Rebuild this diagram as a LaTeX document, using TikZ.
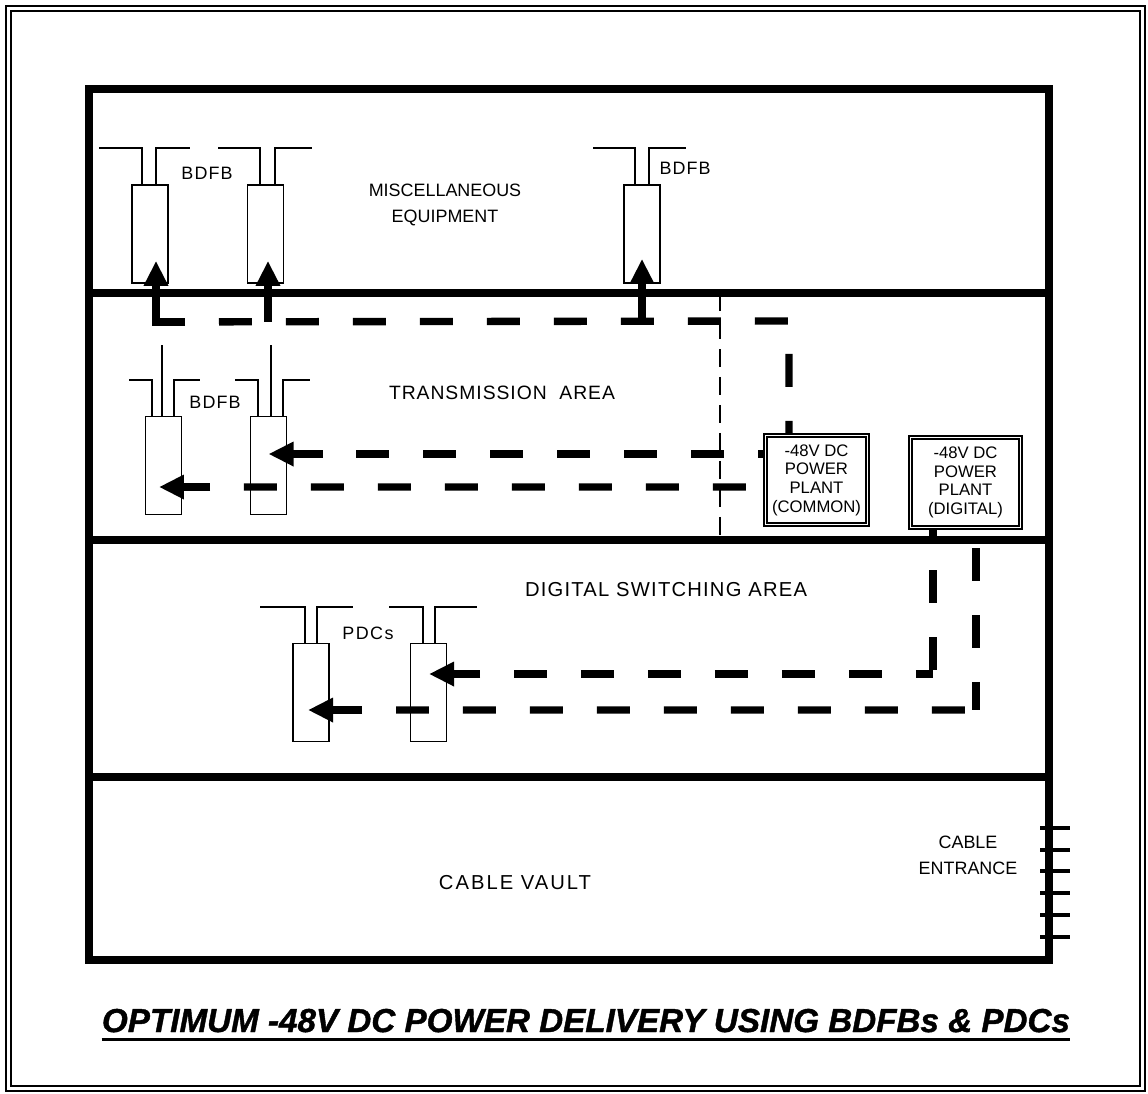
\documentclass[tikz,border=0pt]{standalone}
\usepackage{fontspec}
\setmainfont{Liberation Sans}
\usetikzlibrary{arrows.meta,positioning,calc}
\tikzset{
  wall/.style  ={line width=4.4pt},
  cab/.style   ={draw,line width=1pt,minimum width=.72cm,minimum height=1.96cm,inner sep=0pt},
  wire/.style  ={line width=1pt},
  plant/.style ={draw,double=white,line width=.9pt,double distance=1.1pt,inner sep=0pt,align=center,
                 font=\fontsize{9.5}{10.6}\selectfont},
  lbl/.style   ={font=\fontsize{10.2}{14.7}\selectfont,inner sep=0pt,align=center},
  feed/.style  ={line width=4.2pt,dash pattern=on .66cm off .68cm,dash phase=.66cm},
  fa/.style    ={-{Triangle[length=.5cm,width=.46cm]},line width=4.2pt},
  part/.style  ={line width=.8pt,dash pattern=on .36cm off .2cm},
  tick/.style  ={line width=2.2pt},
}
\begin{document}
\begin{tikzpicture}[x=.02cm,y=-.02cm]
  \useasboundingbox (0,0) rectangle (1148,1093);
  % page frame
  \draw[line width=1.2pt] (6,6) rectangle (1145,1091);
  \draw[line width=.6pt] (11,11) rectangle (1140,1086);
  % building and floors
  \draw[wall] (89,89) rectangle (1049,960);
  \draw[wall] (89,293) -- (1049,293);
  \draw[wall] (89,540) -- (1049,540);
  \draw[wall] (89,777) -- (1049,777);
  \draw[part] (720,293) -- (720,540);

  % BDFB / PDC cabinets
  \foreach \n/\x/\y in {b1/150/234,b2/265.5/234,b3/642/234,t1/163.5/465.5,t2/268.5/465.5,
                        p1/311/692.5,p2/428.5/692.5}
    \node[cab] (\n) at (\x,\y) {};
  \foreach \n/\a/\b/\l/\r in {b1/-8/6/43/34,b2/-5.5/9.5/42/37,b3/-7/7/42/37,t1/-11.5/10.5/23/26,
                              t2/-10.5/14.5/23/27,p1/-6/6/45/36,p2/-5.5/6.5/34/42}
    \draw[wire] ($(\n.north)+(\a,0)$) -- ++(0,-36) -- ++(-\l,0)
                ($(\n.north)+(\b,0)$) -- ++(0,-36) -- ++(\r,0);
  \draw[wire] ($(t1.north)+(-1.5,0)$) -- ++(0,-71);
  \draw[wire] ($(t2.north)+(2.5,0)$) -- ++(0,-71);

  % power plants
  \node[plant,minimum width=2.04cm,minimum height=1.78cm] (pcom) at (816.5,480)
        {-48V DC\\POWER\\PLANT\\(COMMON)};
  \node[plant,minimum width=2.2cm,minimum height=1.8cm] (pdig) at (965.5,482.5)
        {-48V DC\\POWER\\PLANT\\(DIGITAL)};

  % area labels
  \node[lbl] (misc) at (445,205) {MISCELLANEOUS\\EQUIPMENT};
  \node[lbl,font=\fontsize{11}{13}\selectfont] (trans) at (502,393)
        {\addfontfeature{LetterSpace=5}TRANSMISSION\ \ AREA};
  \node[lbl,font=\fontsize{11.5}{13}\selectfont] (dsw) at (666,590)
        {\addfontfeature{LetterSpace=6}DIGITAL SWITCHING AREA};
  \node[lbl,font=\fontsize{11.5}{13}\selectfont] (vault) at (515,883)
        {\addfontfeature{LetterSpace=10}CABLE VAULT};
  \node[lbl] (entr) at (968,855) {CABLE\\ENTRANCE};
  \node[lbl] (lb1) at (207,173) {\addfontfeature{LetterSpace=6}BDFB};
  \node[lbl] (lb2) at (685,168) {\addfontfeature{LetterSpace=6}BDFB};
  \node[lbl] (lb3) at (215,402) {\addfontfeature{LetterSpace=6}BDFB};
  \node[lbl] (lb4) at (368,633) {\addfontfeature{LetterSpace=8}PDCs};

  % feeds from the common plant
  \coordinate (ctop) at (789,321);
  \draw[feed] ($(b1.south)+(35,38)$) -- (ctop) -- (ctop |- pcom.north);
  \draw[fa] ($(b1.south)+(35,38)$) -- ($(b1.south)+(6,38)$) -- ($(b1.south)+(6,-23)$);
  \draw[fa] ($(b2.south)+(2.5,38)$) -- ($(b2.south)+(2.5,-23)$);
  \draw[fa] ($(b3.south)+(0,38)$) -- ($(b3.south)+(0,-25)$);
  \draw[feed] ($(t2.center)+(54,-11.5)$) -- ($(pcom.west)+(0,-26)$);
  \draw[fa] ($(t2.center)+(54,-11.5)$) -- ($(t2.center)+(0,-11.5)$);
  \draw[feed] ($(t1.center)+(46.5,21.5)$) -- ($(pcom.west)+(0,7)$);
  \draw[fa] ($(t1.center)+(46.5,21.5)$) -- ($(t1.center)+(-4.5,21.5)$);

  % feeds from the digital plant
  \coordinate (dup) at (933,674);
  \coordinate (dlo) at (976,710);
  \coordinate (dflr) at (976,548);
  \draw[feed] ($(p2.center)+(51.5,-18.5)$) -- (dup);
  \draw[feed,dash phase=.5cm] (dup |- pdig.south) -- (dup);
  \draw[fa] ($(p2.center)+(51.5,-18.5)$) -- ($(p2.center)+(0.5,-18.5)$);
  \draw[feed] ($(p1.center)+(51,17.5)$) -- (dlo);
  \draw[feed,dash phase=0cm] (dflr) -- (dlo);
  \draw[fa] ($(p1.center)+(51,17.5)$) -- ($(p1.center)+(-3,17.5)$);

  % cable entrance
  \foreach \y in {828,850,871,893,915,937}
    \draw[tick] (1040,\y) -- (1070,\y);

  % title
  \node[font=\fontsize{18.9}{22}\selectfont\bfseries\itshape,inner sep=0pt,anchor=base] (ttl)
        at (586,1032) {\addfontfeature{FakeBold=1.2}OPTIMUM -48V DC POWER DELIVERY USING BDFBs \& PDCs};
  \draw[line width=1.7pt] ($(ttl.base west)+(0,7)$) -- ($(ttl.base east)+(0,7)$);
\end{tikzpicture}
\end{document}
